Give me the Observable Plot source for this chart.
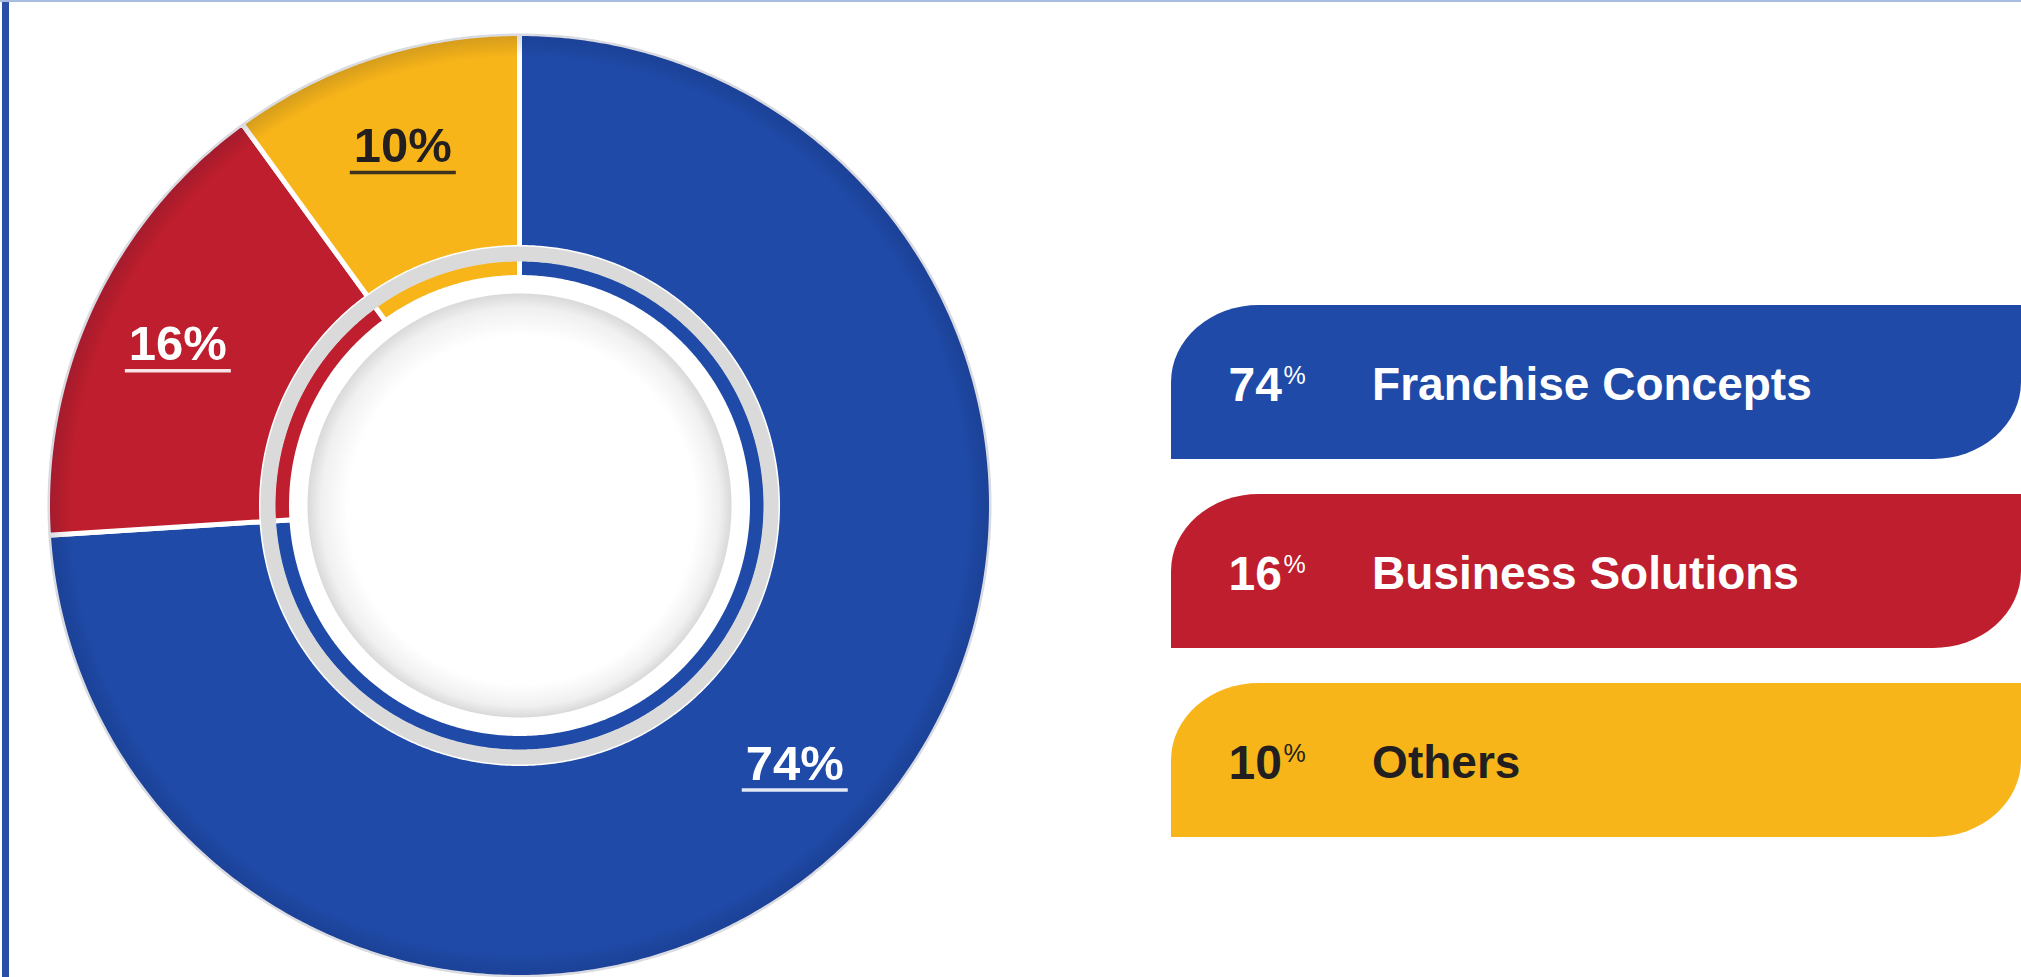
<!DOCTYPE html>
<html>
<head>
<meta charset="utf-8">
<script src="https://cdn.jsdelivr.net/npm/d3@7"></script>
<script src="https://cdn.jsdelivr.net/npm/@observablehq/plot@0.6"></script>
<style>
  html, body { margin: 0; padding: 0; background: #ffffff; }
  #wrap { position: relative; width: 2021px; height: 977px; overflow: hidden; background: #ffffff;
          font-family: "Liberation Sans", Arial, Helvetica, sans-serif; }
  #wrap svg { position: absolute; left: 0; top: 0; }
  .frame-left { position: absolute; left: 2px; top: 0; width: 7px; height: 977px; background: #2b4ea6; }
  .frame-top { position: absolute; left: 0; top: 0; width: 2021px; height: 2px; background: #a7bde0; }
</style>
</head>
<body>
<div id="wrap"></div>
<script>
// ---------------- data ----------------
const categories = ["Franchise Concepts", "Business Solutions", "Others"];
const shares = [74, 16, 10];
const colors = ["#1f4aa8", "#be1e2d", "#f8b51a"];
const textColors = ["#ffffff", "#ffffff", "#231f20"];

// ---------------- layout ----------------
const W = 2021, H = 977;
const cx = 519, cy = 505, R = 472;          // donut centre / outer radius (px)
const ringIn = 258 / R;                      // inner edge of the thick ring
const bandOut = 247 / R, bandIn = 228 / R;   // thin inner coloured band
const grayR = 251.5 / R;                     // grey separator ring
const diskR = 212 / R;                       // shaded centre disk
const labelR = 0.8;

const total = d3.sum(shares);
const rows = categories.map((cat, i) => ({cat, share: shares[i], color: colors[i], textColor: textColors[i]}));
let acc = 0;
rows.forEach(d => { d.a0 = acc / total * 2 * Math.PI; acc += d.share; d.a1 = acc / total * 2 * Math.PI; d.mid = (d.a0 + d.a1) / 2; });

function arc(a0, a1, r) {
  const n = Math.max(2, Math.ceil(Math.abs(a1 - a0) / (Math.PI / 360)));
  return d3.range(n + 1).map(k => { const a = a0 + (a1 - a0) * k / n; return {x: r * Math.sin(a), y: r * Math.cos(a)}; });
}
function wedges(r0, r1) {
  return rows.flatMap(d => [...arc(d.a0, d.a1, r1), ...arc(d.a1, d.a0, r0)].map(p => ({...p, cat: d.cat})));
}
const outerPts = wedges(ringIn, 1);
const bandPts = wedges(bandIn, bandOut);
const grayPts = arc(0, 2 * Math.PI, grayR);
const diskPts = arc(0, 2 * Math.PI, diskR);
const rimPts = arc(0, 2 * Math.PI, 1);
const labels = rows.map(d => ({...d, x: labelR * Math.sin(d.mid), y: labelR * Math.cos(d.mid)}));

const textGroups = [...new Set(textColors)];
const uw = 53 / R;

const donut = Plot.plot({
  width: W, height: H, margin: 0,
  style: {background: "transparent", overflow: "visible"},
  x: {domain: [-1, 1], range: [cx - R, cx + R], axis: null},
  y: {domain: [-1, 1], range: [cy + R, cy - R], axis: null},
  color: {domain: categories, range: colors},
  marks: [
    Plot.line(outerPts, {x: "x", y: "y", z: "cat", fill: "cat", stroke: "white", strokeWidth: 5, curve: "linear-closed"}),
    Plot.line(rimPts, {x: "x", y: "y", fill: "url(#rimShade)", stroke: "none", curve: "linear-closed"}),
    Plot.line(bandPts, {x: "x", y: "y", z: "cat", fill: "cat", stroke: "white", strokeWidth: 5, curve: "linear-closed"}),
    Plot.line(grayPts, {x: "x", y: "y", stroke: "#dadada", strokeWidth: 15, fill: "none", curve: "linear-closed"}),
    Plot.line(diskPts, {x: "x", y: "y", fill: "url(#diskShade)", stroke: "none", curve: "linear-closed"}),
    ...textGroups.map(col => Plot.text(labels, {
      filter: d => d.textColor === col, x: "x", y: "y", text: d => d.share + "%",
      fill: col, fontSize: 49, fontWeight: 700, lineAnchor: "middle",
      fontFamily: "Liberation Sans, Arial, sans-serif"
    })),
    ...textGroups.map(col => Plot.link(labels, {
      filter: d => d.textColor === col, x1: d => d.x - uw, x2: d => d.x + uw, y1: "y", y2: "y",
      dy: 26, stroke: col, strokeWidth: 3.5, strokeOpacity: 0.88
    }))
  ]
});

// gradients for the donut shading
const ns = "http://www.w3.org/2000/svg";
const defs = document.createElementNS(ns, "defs");
defs.innerHTML = `
  <radialGradient id="diskShade" cx="50%" cy="50%" r="50%" fx="53%" fy="56%">
    <stop offset="0" stop-color="#ffffff"/>
    <stop offset="0.82" stop-color="#ffffff"/>
    <stop offset="0.94" stop-color="#f0f0f0"/>
    <stop offset="1" stop-color="#d9d9d9"/>
  </radialGradient>
  <radialGradient id="rimShade" cx="50%" cy="50%" r="50%">
    <stop offset="0" stop-color="#000" stop-opacity="0"/>
    <stop offset="0.95" stop-color="#000" stop-opacity="0"/>
    <stop offset="1" stop-color="#0a1440" stop-opacity="0.16"/>
  </radialGradient>`;
donut.insertBefore(defs, donut.firstChild);

// ---------------- legend ----------------
const bandH = 155;
const corner = 95 / 850;
const legend = Plot.plot({
  width: W, height: H, margin: 0,
  style: {background: "transparent", overflow: "visible"},
  x: {domain: [0, 1], range: [1171, 2021], axis: null},
  y: {type: "band", domain: categories, range: [304, 839], paddingInner: 0.184, paddingOuter: 0, axis: null},
  color: {domain: categories, range: colors},
  marks: [
    Plot.barX(rows, {y: "cat", x1: () => 0, x2: () => 1, fill: "cat", rx: 88, ry: 78}),
    Plot.barX(rows, {y: "cat", x1: () => 0, x2: () => corner, fill: "cat", insetTop: bandH / 2}),
    Plot.barX(rows, {y: "cat", x1: () => 1 - corner, x2: () => 1, fill: "cat", insetBottom: bandH / 2}),
    ...textGroups.map(col => Plot.text(rows, {
      filter: d => d.textColor === col, y: "cat", x: () => 0.067, text: d => String(d.share),
      textAnchor: "start", lineAnchor: "middle", dy: 3, fill: col, fontSize: 48, fontWeight: 700,
      fontFamily: "Liberation Sans, Arial, sans-serif"
    })),
    ...textGroups.map(col => Plot.text(rows, {
      filter: d => d.textColor === col, y: "cat", x: () => 0.067, text: () => "%",
      textAnchor: "start", lineAnchor: "middle", dx: 55, dy: -7, fill: col, fontSize: 25, fontWeight: 400,
      fontFamily: "Liberation Sans, Arial, sans-serif"
    })),
    ...textGroups.map(col => Plot.text(rows, {
      filter: d => d.textColor === col, y: "cat", x: () => 0.236, text: "cat",
      textAnchor: "start", lineAnchor: "middle", dy: 3, fill: col, fontSize: 46, fontWeight: 700,
      fontFamily: "Liberation Sans, Arial, sans-serif"
    }))
  ]
});

const wrap = document.getElementById("wrap");
wrap.appendChild(donut);
wrap.appendChild(legend);
const fl = document.createElement("div"); fl.className = "frame-left"; wrap.appendChild(fl);
const ft = document.createElement("div"); ft.className = "frame-top"; wrap.appendChild(ft);
</script>
</body>
</html>
